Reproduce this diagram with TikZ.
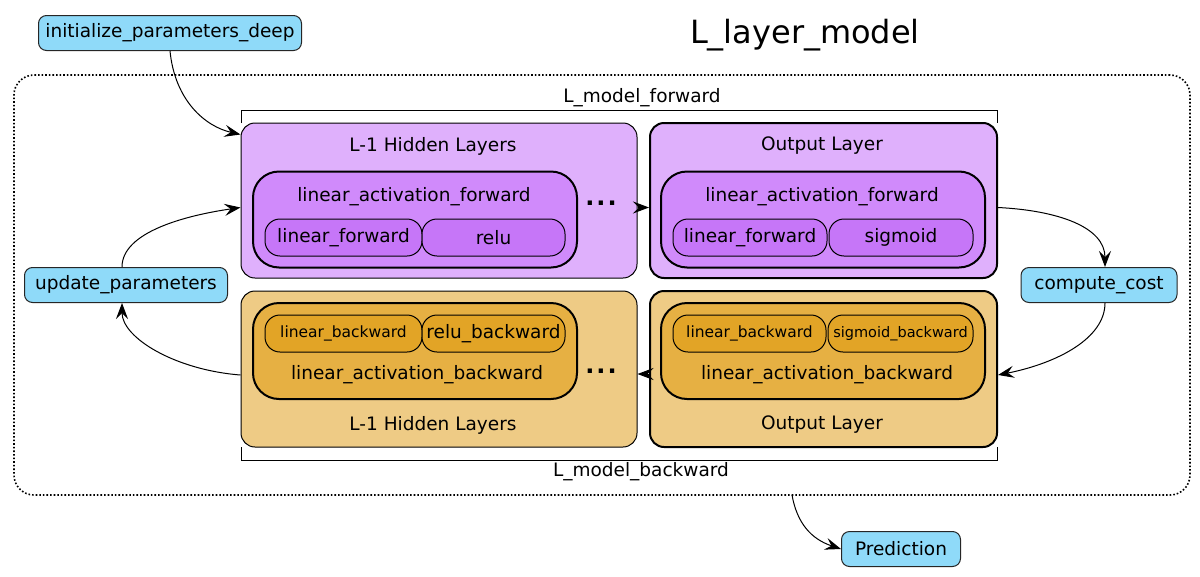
\documentclass[tikz,border=0pt]{standalone}
\usepackage{fontspec}
\setmainfont{DejaVu Sans}
\usetikzlibrary{arrows.meta}
\definecolor{funcblue}{HTML}{8FDAF9}
\definecolor{fwdlight}{HTML}{DFB0FC}
\definecolor{fwdmid}{HTML}{D08AFB}
\definecolor{fwddark}{HTML}{C676F8}
\definecolor{bwdlight}{HTML}{EECB85}
\definecolor{bwdmid}{HTML}{E6B043}
\definecolor{bwddark}{HTML}{E2A426}
\tikzset{
  func/.style={draw=black!85, fill=funcblue, rounded corners=8pt, minimum height=35pt, inner sep=0pt},
  layer/.style={draw, rounded corners=14pt, inner sep=0pt},
  act/.style={draw, line width=2pt, rounded corners=26pt, inner sep=0pt, minimum width=324pt, minimum height=96pt},
  part/.style={draw, rounded corners=15pt, inner sep=0pt, minimum height=37pt},
  arr/.style={-{Stealth[length=16pt,width=12pt,inset=6pt]}, line width=1pt}
}
\begin{document}
\begin{tikzpicture}[x=1pt, y=-1pt, line width=1pt, font=\fontsize{18.5}{22}\selectfont]
\useasboundingbox (0,0) rectangle (1200,576);
% model frame
\node[draw, dotted, line width=1.6pt, rounded corners=20pt, minimum width=1176pt, minimum height=420pt] (model) at (602,285) {};
\node (title) at (805,35) {\fontsize{32}{38}\selectfont L\_layer\_model};
% helper functions
\node[func, minimum width=263pt] (init) at (170,33) {initialize\_parameters\_deep};
\node[func, minimum width=203pt] (update) at (126,285) {update\_parameters};
\node[func, minimum width=156pt] (cost) at (1099,285) {compute\_cost};
\node[func, minimum width=119pt] (pred) at (901,549) {Prediction};
% forward layers
\node[layer, fill=fwdlight, minimum width=396pt, minimum height=155pt] (fh) at (439,200.5) {};
\node[layer, fill=fwdlight, line width=2pt, minimum width=347pt, minimum height=155pt] (fo) at (823.5,200.5) {};
\node (fhtext) at (433,146) {L-1 Hidden Layers};
\node (fotext) at (822,146) {Output Layer};
\node[act, fill=fwdmid] (fha) at (415,219.5) {};
\node[act, fill=fwdmid] (foa) at (823,219.5) {};
\node (fhatext) at (414,197) {linear\_activation\_forward};
\node (foatext) at (822,197) {linear\_activation\_forward};
\node[part, fill=fwddark, minimum width=157pt] (fhlin) at (343.5,237.5) {linear\_forward};
\node[part, fill=fwddark, minimum width=143pt] (fhrelu) at (493.5,237.5) {relu};
\node[part, fill=fwddark, minimum width=154pt] (folin) at (750,237.5) {linear\_forward};
\node[part, fill=fwddark, minimum width=144pt] (fosig) at (901,237.5) {sigmoid};
\node (fdots) at (601,203) {\fontsize{24}{26}\selectfont\textbf{.\kern2pt.\kern2pt.}};
% backward layers
\node[layer, fill=bwdlight, minimum width=396pt, minimum height=156pt] (bh) at (439,369) {};
\node[layer, fill=bwdlight, line width=2pt, minimum width=347pt, minimum height=156pt] (bo) at (823.5,369) {};
\node (bhtext) at (433,425) {L-1 Hidden Layers};
\node (botext) at (822,425) {Output Layer};
\node[act, fill=bwdmid] (bha) at (415,351) {};
\node[act, fill=bwdmid] (boa) at (823,351) {};
\node (bhatext) at (417,375) {linear\_activation\_backward};
\node (boatext) at (827,375) {linear\_activation\_backward};
\node[part, fill=bwddark, minimum width=157pt] (bhlin) at (343.5,333.5) {\fontsize{15.5}{18}\selectfont linear\_backward};
\node[part, fill=bwddark, minimum width=143pt] (bhrelu) at (493.5,333.5) {relu\_backward};
\node[part, fill=bwddark, minimum width=153pt] (bolin) at (749.5,333.5) {\fontsize{15.5}{18}\selectfont linear\_backward};
\node[part, fill=bwddark, minimum width=145pt] (bosig) at (900.5,333.5) {\fontsize{14.5}{17}\selectfont sigmoid\_backward};
\node (bdots) at (601,371) {\fontsize{24}{26}\selectfont\textbf{.\kern2pt.\kern2pt.}};
% brackets
\coordinate (ftl) at (241,123);
\coordinate (ftr) at (997,123);
\coordinate (bbl) at (241,447);
\coordinate (bbr) at (997,447);
\draw (ftl) -- ++(0,-13) -| (ftr);
\draw (bbl) -- ++(0,13) -| (bbr);
\node (fwdlabel) at (642,98) {L\_model\_forward};
\node (bwdlabel) at (641,472) {L\_model\_backward};
% connectors
\coordinate (predstart) at (792,495);
\draw[arr] (init.south) .. controls +(5,50) and +(-35,-8) .. ([yshift=-12pt]fh.north west);
\draw[arr] ([xshift=-4pt]update.north) .. controls +(0,-35) and +(-55,8) .. ([yshift=-7pt]fh.west);
\draw[arr] ([yshift=-6pt]bh.west) .. controls +(-65,-5) and +(0,35) .. ([xshift=-4pt]update.south);
\draw[arr] ([yshift=-7pt]fh.east) -- ([yshift=-7pt]fo.west);
\draw[arr] ([yshift=-5pt]bo.west) -- ([yshift=-5pt]bh.east);
\draw[arr] ([yshift=-7pt]fo.east) .. controls +(60,3) and +(0,-40) .. ([xshift=6pt]cost.north);
\draw[arr] ([xshift=6pt]cost.south) .. controls +(0,35) and +(60,-12) .. ([yshift=-6pt]bo.east);
\draw[arr] (predstart) .. controls +(5,28) and +(-30,-10) .. (pred.west);
\end{tikzpicture}
\end{document}
